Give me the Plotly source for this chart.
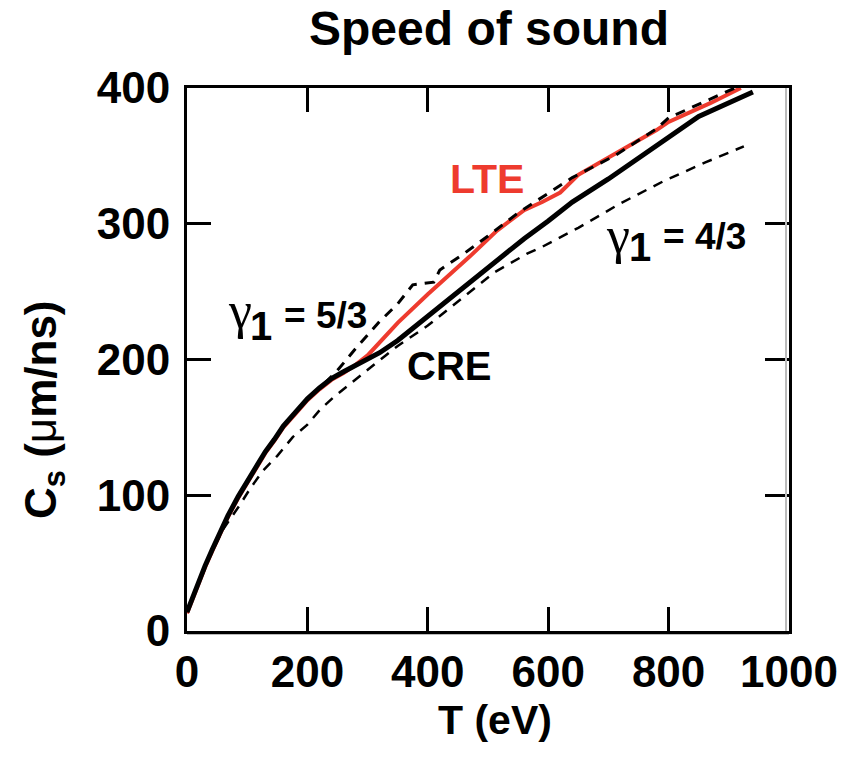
import plotly.graph_objects as go

# ---------------- data ----------------
T_cre = [0, 10, 20, 30, 42, 55, 68, 85, 101, 115, 130, 145, 160, 180, 200, 220, 240, 260, 280, 300, 320, 350, 400, 450, 500, 560, 600, 640, 700, 780, 850, 940]
C_cre = [14, 26, 37, 48, 60, 73, 85, 99, 111, 121, 132, 141, 151, 161, 171, 179, 186, 191, 196, 201, 205, 214, 232, 250, 268, 289, 302, 316, 333, 358, 379, 397]

T_lte = [0, 10, 20, 30, 42, 55, 68, 85, 101, 115, 130, 145, 160, 180, 200, 220, 240, 260, 280, 300, 330, 350, 400, 440, 470, 515, 560, 590, 620, 650, 710, 780, 800, 870, 920]
C_lte = [13, 25, 36, 47, 59, 72, 84, 98, 110, 120, 131, 140, 150, 160, 170, 178, 185, 190, 196, 203, 217, 227, 248, 264, 276, 295, 310, 316, 323, 336, 351, 369, 375, 389, 400]

T_g53 = [0, 20, 42, 68, 101, 130, 160, 200, 230, 250, 280, 320, 350, 375, 410, 420, 460, 500, 550, 640, 710, 780, 800, 915]
C_g53 = [14, 37, 60, 85, 111, 132, 151, 171, 183, 192, 208, 228, 241, 255, 257, 266, 278, 291, 308, 334, 350, 370, 378, 401]

T_g43 = [0, 20, 40, 60, 77, 88, 105, 126, 150, 176, 200, 221, 243, 266, 290, 310, 330, 350, 400, 470, 510, 565, 590, 650, 720, 790, 860, 925]
C_g43 = [14, 36, 57, 75, 86, 93, 105, 118, 129, 143, 152, 163, 172, 180, 189, 196, 203, 210, 225, 250, 264, 278, 283, 297, 315, 331, 345, 357]

x_ticks = [0, 200, 400, 600, 800, 1000]
y_ticks = [0, 100, 200, 300, 400]

# ---------------- layout geometry (pixels) ----------------
W, H = 851, 757
L, R, TOP, BOT = 187, 789, 88, 631
FONT = "Liberation Sans"
RED = "#EE3B2E"


def pp(xp, yp):
    return (xp - L) / (R - L), (BOT - yp) / (BOT - TOP)


fig = go.Figure()
fig.add_trace(go.Scatter(x=T_lte, y=C_lte, mode="lines",
                         line=dict(color=RED, width=4), showlegend=False))
fig.add_trace(go.Scatter(x=T_cre, y=C_cre, mode="lines",
                         line=dict(color="black", width=5), showlegend=False))
fig.add_trace(go.Scatter(x=T_g53, y=C_g53, mode="lines",
                         line=dict(color="black", width=3, dash="10px,8px"), showlegend=False))
fig.add_trace(go.Scatter(x=T_g43, y=C_g43, mode="lines",
                         line=dict(color="black", width=2.5, dash="10px,8px"), showlegend=False))

axis_common = dict(
    ticks="inside", ticklen=24, tickwidth=3, tickcolor="black",
    showline=True, linewidth=3, linecolor="black", mirror="ticks",
    showgrid=False, zeroline=False,
    tickfont=dict(family=FONT, size=44, color="black", weight="bold"),
)
fig.update_xaxes(range=[0, 1000], tickvals=x_ticks, ticktext=[str(v) for v in x_ticks],
                 ticklabelstandoff=0, **axis_common)
fig.update_yaxes(range=[0, 400], tickvals=y_ticks, ticktext=[str(v) for v in y_ticks],
                 ticklabelstandoff=5, **axis_common)

ann = []


def add_text(text, xp, yp, size, color="black", bold=True, family=FONT, angle=0):
    x, y = pp(xp, yp)
    ann.append(dict(text=text, x=x, y=y, xref="paper", yref="paper",
                    xanchor="center", yanchor="middle", showarrow=False,
                    textangle=angle,
                    font=dict(family=family, size=size, color=color,
                              weight="bold" if bold else "normal")))


# title and axis titles
add_text("Speed of sound", 489, 29, 48)
add_text("T (eV)", 495, 720, 41)
add_text("C<sub>s</sub> (<span style='font-weight:normal'>\u03bc</span>m/ns)", 44, 410, 44, angle=-90)

# curve labels
add_text("LTE", 487, 179, 41, color=RED)
add_text("CRE", 449, 366, 40)

# gamma labels
add_text("\u03b3", 240, 310, 52, bold=False, family="Liberation Serif")
add_text("1", 261, 326, 40)
add_text("= 5/3", 325, 315, 37)

add_text("\u03b3", 618, 235, 52, bold=False, family="Liberation Serif")
add_text("1", 640, 247, 40)
add_text("= 4/3", 704, 237, 37)

shapes = [
    dict(type="line", xref="paper", yref="paper", x0=1, x1=1, y0=0, y1=1,
         xsizemode="pixel", xanchor=1, layer="above",
         line=dict(color="#BBBBBB", width=2)),
    dict(type="line", xref="paper", yref="paper", x0=0, x1=1, y0=0, y1=0,
         ysizemode="pixel", yanchor=0, layer="below",
         line=dict(color="#BBBBBB", width=2)),
]
shapes[0].update(x0=-3, x1=-3)
shapes[1].update(y0=-3, y1=-3)

fig.update_layout(
    width=W, height=H,
    margin=dict(l=L, r=W - R, t=TOP, b=H - BOT, pad=0),
    paper_bgcolor="white", plot_bgcolor="white",
    annotations=ann, shapes=shapes, showlegend=False,
)

fig.write_html("out.html")
